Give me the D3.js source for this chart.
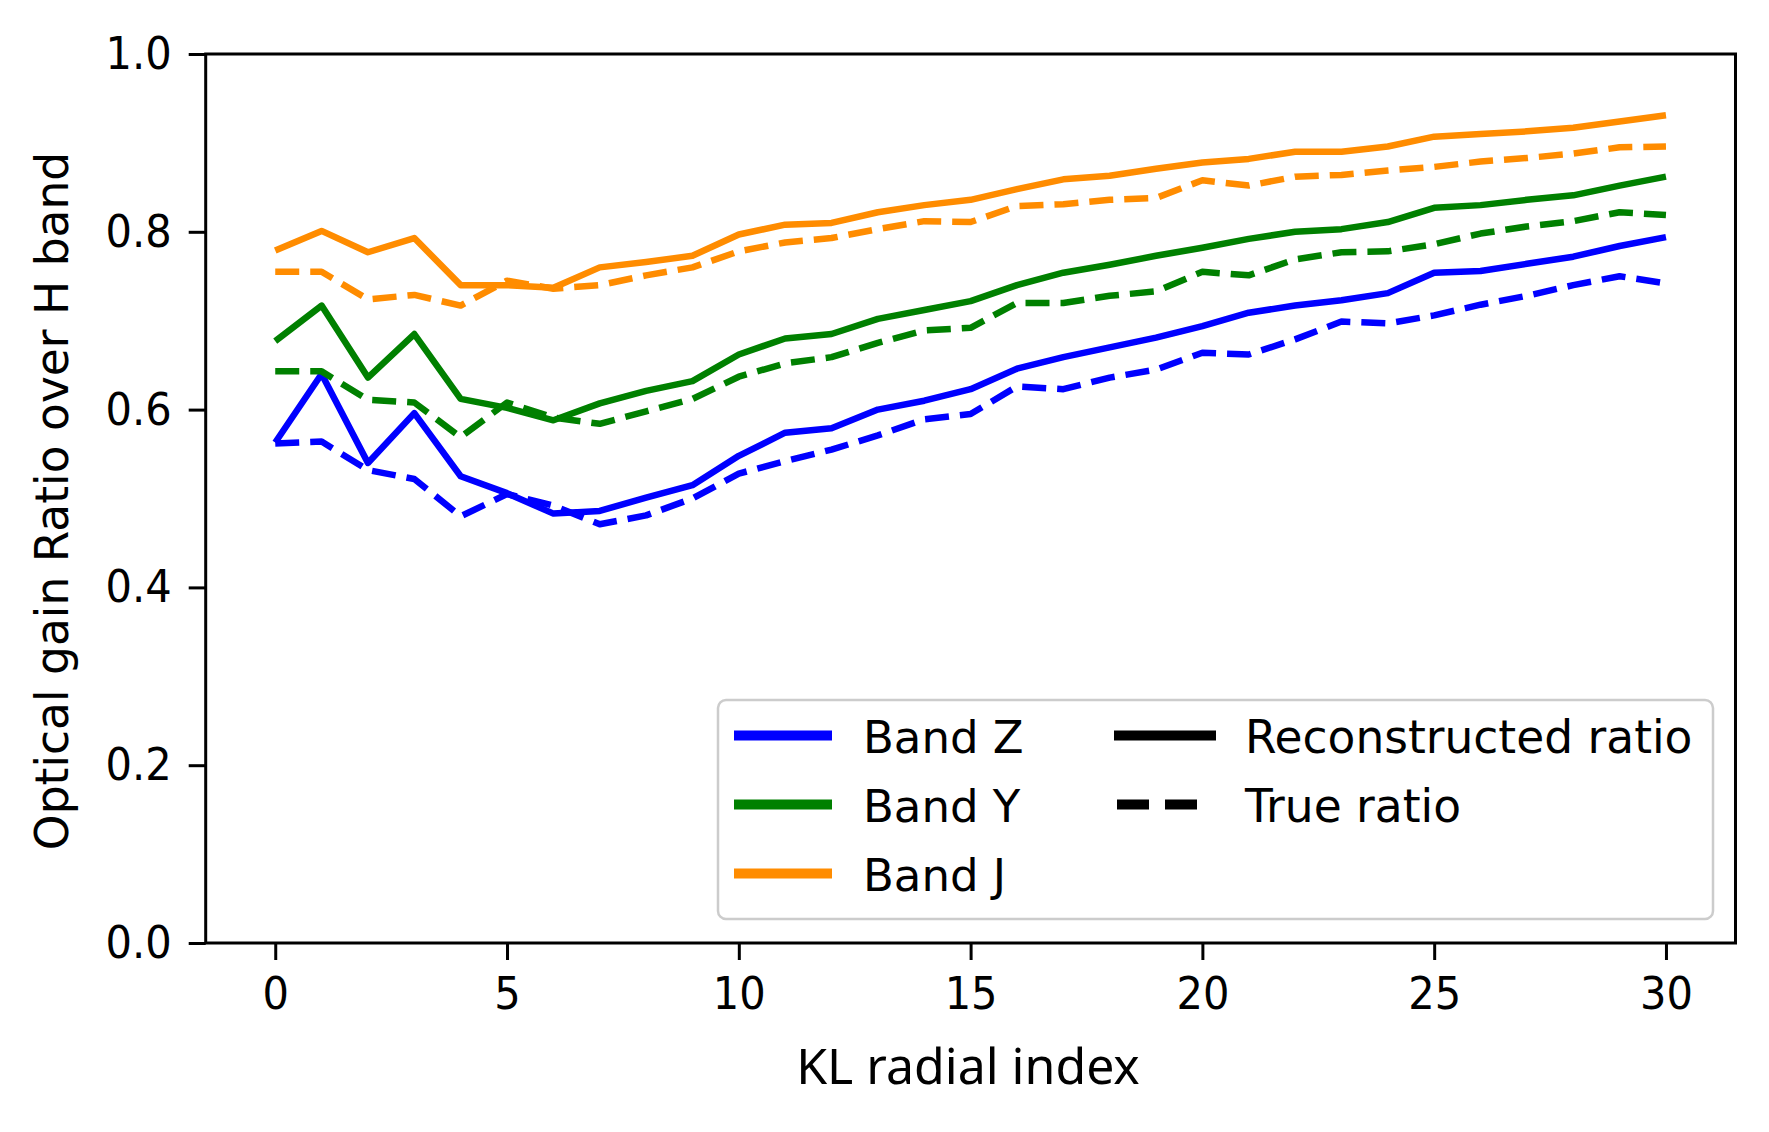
<!DOCTYPE html>
<html>
<head>
<meta charset="utf-8">
<script src="https://cdn.jsdelivr.net/npm/d3@7"></script>
<style>
  body { margin: 0; background: #fff; }
  svg { display: block; }
  .tick text { font-family: "DejaVu Sans", sans-serif; font-size: 45px; fill: #000; }
</style>
</head>
<body>
<svg width="1769" height="1132"></svg>
<script>
// KL radial index 0..30
var kl = d3.range(0, 31);

var zRec  = [0.563, 0.640, 0.540, 0.596, 0.525, 0.506, 0.483, 0.486, 0.501, 0.515, 0.548, 0.574, 0.579, 0.600, 0.610, 0.623, 0.646, 0.659, 0.670, 0.681, 0.694, 0.709, 0.717, 0.723, 0.731, 0.754, 0.756, 0.764, 0.772, 0.784, 0.794];
var zTrue = [0.562, 0.564, 0.532, 0.522, 0.480, 0.505, 0.492, 0.471, 0.481, 0.500, 0.528, 0.542, 0.555, 0.571, 0.589, 0.595, 0.626, 0.623, 0.636, 0.645, 0.664, 0.662, 0.679, 0.699, 0.697, 0.706, 0.718, 0.728, 0.740, 0.750, 0.742];
var yRec  = [0.677, 0.717, 0.636, 0.685, 0.612, 0.602, 0.588, 0.607, 0.621, 0.632, 0.662, 0.680, 0.685, 0.702, 0.712, 0.722, 0.740, 0.754, 0.763, 0.773, 0.782, 0.792, 0.800, 0.803, 0.811, 0.827, 0.830, 0.836, 0.841, 0.852, 0.862];
var yTrue = [0.643, 0.643, 0.611, 0.608, 0.569, 0.608, 0.591, 0.584, 0.598, 0.612, 0.637, 0.652, 0.659, 0.675, 0.689, 0.692, 0.720, 0.720, 0.728, 0.733, 0.755, 0.751, 0.769, 0.777, 0.778, 0.786, 0.798, 0.806, 0.812, 0.822, 0.819];
var jRec  = [0.779, 0.801, 0.777, 0.793, 0.740, 0.740, 0.737, 0.760, 0.766, 0.773, 0.797, 0.808, 0.810, 0.822, 0.830, 0.836, 0.848, 0.859, 0.863, 0.871, 0.878, 0.882, 0.890, 0.890, 0.896, 0.907, 0.910, 0.913, 0.917, 0.924, 0.931];
var jTrue = [0.755, 0.755, 0.724, 0.729, 0.717, 0.745, 0.736, 0.740, 0.751, 0.760, 0.778, 0.788, 0.793, 0.803, 0.812, 0.811, 0.829, 0.831, 0.836, 0.838, 0.858, 0.852, 0.862, 0.864, 0.869, 0.873, 0.879, 0.883, 0.888, 0.895, 0.896];

var bands = ["Band Z", "Band Y", "Band J"];
var bandColors = ["#0000ff", "#008000", "#ff8c00"];
var styles = ["Reconstructed ratio", "True ratio"];
var xTicks = [0, 5, 10, 15, 20, 25, 30];
var yTicks = [0, 0.2, 0.4, 0.6, 0.8, 1.0];

var series = [
  { band: 0, dashed: false, values: zRec },
  { band: 0, dashed: true, values: zTrue },
  { band: 1, dashed: false, values: yRec },
  { band: 1, dashed: true, values: yTrue },
  { band: 2, dashed: false, values: jRec },
  { band: 2, dashed: true, values: jTrue }
];

var svg = d3.select("svg");
var plotLeft = 205.7, plotRight = 1735.5, plotTop = 54, plotBottom = 943;
var sx = 0.925; // tick labels in the source are squeezed a little horizontally

var x = d3.scaleLinear().domain([-1.5, 31.5]).range([plotLeft, plotRight]);
var y = d3.scaleLinear().domain([0, 1]).range([plotBottom, plotTop]);

var line = d3.line().
  x(function (d, i) {return x(kl[i]);}).
  y(function (d) {return y(d);});

svg.append("g").
  selectAll("path").
  data(series).
  enter().append("path").
  attr("d", function (d) {return line(d.values);}).
  attr("fill", "none").
  attr("stroke", function (d) {return bandColors[d.band];}).
  attr("stroke-width", 6.5).
  attr("stroke-linejoin", "round").
  attr("stroke-dasharray", function (d) {return d.dashed ? "24,11" : null;});

// axes
var xAxis = svg.append("g").
  attr("transform", "translate(0," + plotBottom + ")").
  call(d3.axisBottom(x).tickValues(xTicks).tickSize(17).tickPadding(18).tickFormat(d3.format("d")));

var yAxis = svg.append("g").
  attr("transform", "translate(" + plotLeft + ",0)").
  call(d3.axisLeft(y).tickValues(yTicks).tickSize(17).tickPadding(16).tickFormat(d3.format(".1f")));

[xAxis, yAxis].forEach(function (ax) {
  ax.select(".domain").remove();
  ax.selectAll(".tick line").attr("stroke", "#000").attr("stroke-width", 3);
});
xAxis.selectAll(".tick text").attr("transform", "scale(" + sx + ",1)").attr("dy", "0.7em");
yAxis.selectAll(".tick text").
  attr("x", 0).
  attr("transform", "translate(-34,0) scale(" + sx + ",1)");

svg.append("rect").
  attr("x", plotLeft).attr("y", plotTop).
  attr("width", plotRight - plotLeft).attr("height", plotBottom - plotTop).
  attr("fill", "none").attr("stroke", "#000").attr("stroke-width", 3);

// axis labels
svg.append("text").
  attr("x", 968).attr("y", 1084).
  attr("text-anchor", "middle").
  attr("font-family", "'Noto Sans', sans-serif").
  attr("font-size", 50).
  text("KL radial index");

svg.append("text").
  attr("transform", "translate(68,501) rotate(-90)").
  attr("text-anchor", "middle").
  attr("font-family", "'DejaVu Sans', sans-serif").
  attr("font-size", 45.5).
  text("Optical gain Ratio over H band");

// legend
var legend = svg.append("g");
legend.append("rect").
  attr("x", 718).attr("y", 700).
  attr("width", 995).attr("height", 219).
  attr("rx", 8).
  attr("fill", "#fff").attr("fill-opacity", 0.8).
  attr("stroke", "#cccccc").attr("stroke-width", 2.5);

var rowY = function (i) {return 735.5 + i * 69;};

var bandItem = legend.selectAll(".band").
  data(bands).
  enter().append("g").
  attr("class", "band");
bandItem.append("line").
  attr("x1", 734).attr("x2", 832).
  attr("y1", function (d, i) {return rowY(i);}).
  attr("y2", function (d, i) {return rowY(i);}).
  attr("stroke", function (d, i) {return bandColors[i];}).
  attr("stroke-width", 10);
bandItem.append("text").
  attr("x", 863).
  attr("y", function (d, i) {return rowY(i) + 17;}).
  attr("font-family", "'DejaVu Sans', sans-serif").
  attr("font-size", 45).
  text(function (d) {return d;});

var styleItem = legend.selectAll(".style").
  data(styles).
  enter().append("g").
  attr("class", "style");
styleItem.append("line").
  attr("x1", function (d, i) {return i ? 1117 : 1114;}).
  attr("x2", function (d, i) {return i ? 1199 : 1216;}).
  attr("y1", function (d, i) {return rowY(i);}).
  attr("y2", function (d, i) {return rowY(i);}).
  attr("stroke", "#000").
  attr("stroke-width", 10).
  attr("stroke-dasharray", function (d, i) {return i ? "32,16" : null;});
styleItem.append("text").
  attr("x", 1245).
  attr("y", function (d, i) {return rowY(i) + 17;}).
  attr("font-family", "'DejaVu Sans', sans-serif").
  attr("font-size", 45.5).
  text(function (d) {return d;});
</script>
</body>
</html>
